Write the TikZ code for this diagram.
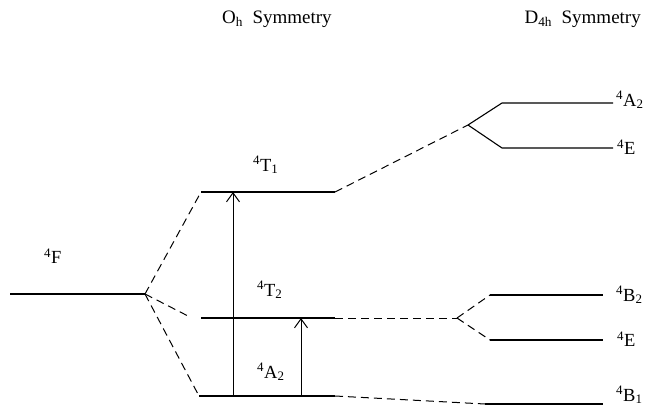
\documentclass[tikz,border=0pt]{standalone}
\usepackage{fontspec}
\setmainfont{Liberation Serif}
\usetikzlibrary{arrows.meta}

\tikzset{
  level/.style={line width=1.1pt},
  corr/.style={line width=1pt, dash pattern=on 8pt off 5pt},
  trans/.style={line width=1pt, -{Straight Barb[length=9pt,width=13pt,line width=1pt]}},
  term/.style={font=\fontsize{18.5}{20}\selectfont, inner sep=0pt},
  head/.style={font=\fontsize{19}{24}\selectfont, inner sep=0pt}
}

\begin{document}
\begin{tikzpicture}[x=1pt,y=-1pt]
    \useasboundingbox (0,0) rectangle (645,409);

    % Free ion term
    \coordinate (Fl) at (10,294);
    \coordinate (Fr) at (145,294);

    % Oh levels
    \coordinate (T1l) at (201,192);  \coordinate (T1r) at (335,192);
    \coordinate (T2d) at (190,317);  \coordinate (T2l) at (201,318);  \coordinate (T2r) at (335,318);
    \coordinate (A2l) at (199,396);  \coordinate (A2r) at (335,396);

    % D4h levels
    \coordinate (Su) at (468,125);
    \coordinate (UA) at (502,103);   \coordinate (UAr) at (613,103);
    \coordinate (UE) at (502,148);   \coordinate (UEr) at (613,148);
    \coordinate (Sm) at (457,318);
    \coordinate (MB) at (490,295);   \coordinate (MBr) at (603,295);
    \coordinate (ME) at (490,340);   \coordinate (MEr) at (603,340);
    \coordinate (LB) at (485,404);   \coordinate (LBr) at (603,404);

    % Levels
    \draw[level] (Fl) -- (Fr);
    \draw[level] (T1l) -- (T1r);
    \draw[level] (T2l) -- (T2r);
    \draw[level] (A2l) -- (A2r);
    \draw[level] (Su) -- (UA) -- (UAr);
    \draw[level] (Su) -- (UE) -- (UEr);
    \draw[level] (MB) -- (MBr);
    \draw[level] (ME) -- (MEr);
    \draw[level] (LB) -- (LBr);

    % Correlation lines
    \draw[corr] (Fr) -- (T1l);
    \draw[corr] (Fr) -- (T2d);
    \draw[corr] (Fr) -- (A2l);
    \draw[corr] (T1r) -- (Su);
    \draw[corr] (T2r) -- (Sm);
    \draw[corr] (Sm) -- (MB);
    \draw[corr] (Sm) -- (ME);
    \draw[corr] (A2r) -- (LB);

    % Transitions
    \coordinate (a1s) at (233,396);  \coordinate (a1e) at (233,192);
    \coordinate (a2s) at (301,396);  \coordinate (a2e) at (301,318);
    \draw[trans] (a1s) -- (a1e);
    \draw[trans] (a2s) -- (a2e);

    % Term labels
    \node[term, anchor=west] (tF)  at (44,256)  {\textsuperscript{4}F};
    \node[term, anchor=west] (tT1) at (253,165) {\textsuperscript{4}T\textsubscript{1}};
    \node[term, anchor=west] (tT2) at (257,290) {\textsuperscript{4}T\textsubscript{2}};
    \node[term, anchor=west] (tA2) at (257,372) {\textsuperscript{4}A\textsubscript{2}};
    \node[term, anchor=west] (dA2) at (616,100) {\textsuperscript{4}A\textsubscript{2}};
    \node[term, anchor=west] (dE1) at (617,147) {\textsuperscript{4}E};
    \node[term, anchor=west] (dB2) at (616,295) {\textsuperscript{4}B\textsubscript{2}};
    \node[term, anchor=west] (dE2) at (617,339) {\textsuperscript{4}E};
    \node[term, anchor=west] (dB1) at (616,395) {\textsuperscript{4}B\textsubscript{1}};

    % Headings
    \node[head, anchor=west] (hO) at (222,19) {O\textsubscript{h}\ \ Symmetry};
    \node[head, anchor=east] (hD) at (641,19) {D\textsubscript{4h}\ \ Symmetry};
\end{tikzpicture}
\end{document}
